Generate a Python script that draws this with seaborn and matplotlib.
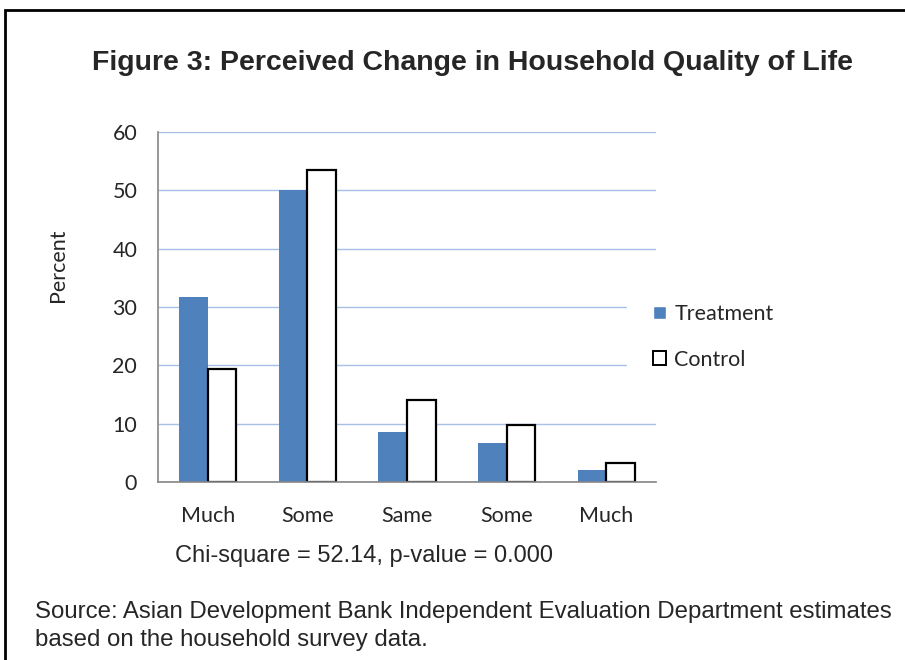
import matplotlib
matplotlib.use("Agg")
import matplotlib.pyplot as plt
import seaborn as sns
import pandas as pd
from matplotlib.patches import Rectangle

categories = ["Much better", "Somewhat better", "Same", "Somewhat worse", "Much worse"]
tick_labels = ["Much", "Some", "Same", "Some", "Much"]
treatment = [31.7, 50.1, 8.5, 6.7, 2.0]
control = [19.3, 53.5, 14.1, 9.7, 3.3]
groups = ["Treatment", "Control"]

df = pd.DataFrame({
    "category": categories * 2,
    "group": ["Treatment"] * len(categories) + ["Control"] * len(categories),
    "percent": treatment + control,
})

sns.set_style("white")
plt.rcParams["font.family"] = ["Lato", "DejaVu Sans"]

W, H = 905, 660
fig = plt.figure(figsize=(W / 100, H / 100), dpi=100)
ax = fig.add_axes([158 / W, 1 - 482 / H, (656 - 158) / W, 350 / H])

sns.barplot(data=df, x="category", y="percent", hue="group", order=categories,
            hue_order=groups, palette={"Treatment": "#4F81BD", "Control": "white"},
            width=0.576, gap=0, saturation=1, errorbar=None, ax=ax, zorder=3)

for bar in ax.containers[0]:
    bar.set_edgecolor("none")
for bar in ax.containers[1]:
    bar.set_edgecolor("black")
    bar.set_linewidth(1.6)

ax.set_ylim(0, 60)
ax.set_yticks(range(0, 61, 10))
ax.set_xlim(-0.5, len(categories) - 0.5)
ax.set_xticks(range(len(categories)))
ax.set_xticklabels(tick_labels)
ax.set_xticks([i - 0.5 for i in range(len(categories) + 1)], minor=True)
ax.tick_params(axis="x", which="major", length=0, pad=17, labelsize=15.5)
ax.tick_params(axis="x", which="minor", length=4.5, width=1, color="#868686", direction="out")
ax.tick_params(axis="y", length=4.5, width=1, color="#868686", direction="out", pad=10.5, labelsize=15.5)
ax.grid(axis="y", color="#A7C0E6", linewidth=1, zorder=0)
ax.set_axisbelow(True)
for side in ["top", "right"]:
    ax.spines[side].set_visible(False)
for side in ["left", "bottom"]:
    ax.spines[side].set_color("#868686")
    ax.spines[side].set_linewidth(1.2)
    ax.spines[side].set_zorder(4)
ax.set_xlabel("")
ax.set_ylabel("Percent", fontsize=15.5)
ax.yaxis.set_label_coords((68 - 158) / 498, 0.62)

handles, labels = ax.get_legend_handles_labels()
leg = ax.legend(handles, labels, loc="center left", bbox_to_anchor=(627 / W, 1 - 337 / H),
                bbox_transform=fig.transFigure, frameon=True, facecolor="white", edgecolor="white",
                framealpha=1, fancybox=False, fontsize=15.5, handlelength=0.62, handleheight=0.62,
                handletextpad=0.37, labelspacing=1.2, borderpad=1.2, borderaxespad=0)
for h in leg.legend_handles:
    if h.get_facecolor()[:3] == (1.0, 1.0, 1.0):
        h.set_edgecolor("black")
        h.set_linewidth(1.4)

fig.text(472 / W, 1 - 70 / H, "Figure 3: Perceived Change in Household Quality of Life",
         ha="center", va="baseline", fontsize=20.5, fontweight="bold", family="Liberation Sans")
fig.text(364 / W, 1 - 562 / H, "Chi-square = 52.14, p-value = 0.000",
         ha="center", va="baseline", fontsize=17, family="Liberation Sans")
fig.text(35 / W, 1 - 618 / H,
         "Source: Asian Development Bank Independent Evaluation Department estimates",
         ha="left", va="baseline", fontsize=17.25, family="Liberation Sans")
fig.text(35 / W, 1 - 646 / H, "based on the household survey data.",
         ha="left", va="baseline", fontsize=17.25, family="Liberation Sans")

fig.add_artist(Rectangle((5 / W, -0.05), 1.2, 1 - 10 / H + 0.05, transform=fig.transFigure,
                         fill=False, edgecolor="black", linewidth=2, clip_on=False))

fig.savefig("out.png", dpi=100)
